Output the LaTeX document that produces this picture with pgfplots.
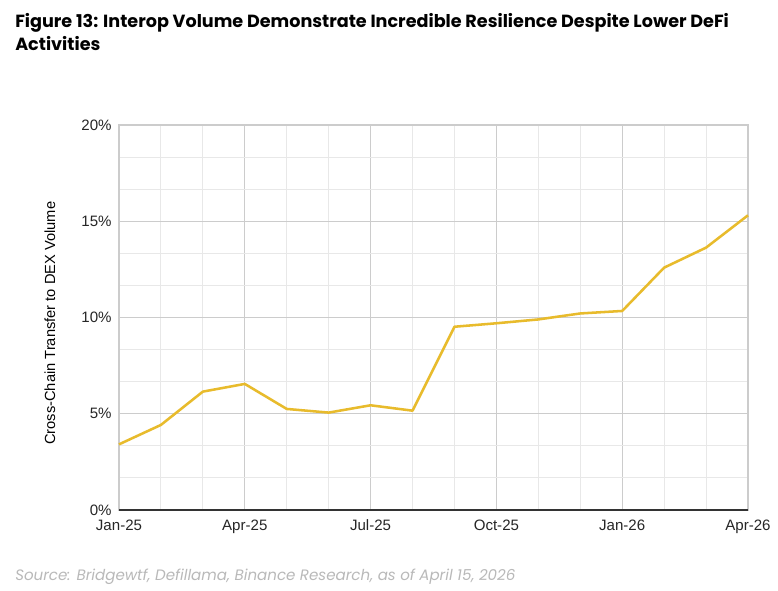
\documentclass[border=0pt]{standalone}
\usepackage{fontspec}
\setmainfont{Liberation Sans}
\newfontfamily\titlefont{Poppins}
\usepackage{pgfplots}
\pgfplotsset{compat=1.18}
\definecolor{gold}{RGB}{232,187,44}
\definecolor{majgrid}{RGB}{204,204,204}
\definecolor{mingrid}{RGB}{232,232,232}
\definecolor{srcgray}{RGB}{185,185,185}
\begin{document}
\begin{tikzpicture}
\path[fill=white] (0,0) rectangle (583.5pt,442.5pt);
\node[anchor=base west, inner sep=0pt, font=\titlefont\bfseries\fontsize{13.2}{15}\selectfont] at (11.25pt,421.5pt) {Figure 13: Interop Volume Demonstrate Incredible Resilience Despite Lower DeFi};
\node[anchor=base west, inner sep=0pt, font=\titlefont\bfseries\fontsize{13.2}{15}\selectfont] at (11.25pt,404.25pt) {Activities};
\node[anchor=base west, inner sep=0pt, font=\titlefont\itshape\fontsize{11.3}{13}\selectfont, text=srcgray] at (11.25pt,7.5pt) {Source: Bridgewtf, Defillama, Binance Research, as of April 15, 2026};
\node[rotate=90, inner sep=0pt, font=\fontsize{11}{13}\selectfont] at (37.5pt,200pt) {Cross-Chain Transfer to DEX Volume};
\begin{axis}[
  at={(89.25pt,60pt)}, anchor=south west,
  scale only axis, width=471.75pt, height=288.75pt,
  xmin=0, xmax=15, ymin=0, ymax=20,
  xtick={0,3,6,9,12,15},
  xticklabels={Jan-25,Apr-25,Jul-25,Oct-25,Jan-26,Apr-26},
  minor xtick={1,2,4,5,7,8,10,11,13,14},
  ytick={0,5,10,15,20},
  yticklabels={0\%,5\%,10\%,15\%,20\%},
  minor y tick num=2,
  grid=both,
  major grid style={majgrid, line width=0.8pt},
  minor grid style={mingrid, line width=0.8pt},
  axis line style={majgrid, line width=0.8pt},
  major tick length=0pt, minor tick length=0pt,
  tick label style={font=\fontsize{11.3}{13}\selectfont, text=black!85},
  yticklabel style={xshift=-2pt},
  xticklabel style={yshift=-4pt},
  clip=false,
]
\draw[black!80, line width=1.1pt] (rel axis cs:0,0) -- (rel axis cs:1,0);
\addplot[gold, line width=1.9pt, line join=round, no marks] coordinates {
(0,3.41) (1,4.42) (2,6.15) (3,6.55) (4,5.25) (5,5.06) (6,5.44) (7,5.16)
(8,9.52) (9,9.70) (10,9.90) (11,10.21) (12,10.34) (13,12.59) (14,13.63) (15,15.31)
};
\end{axis}
\end{tikzpicture}
\end{document}
